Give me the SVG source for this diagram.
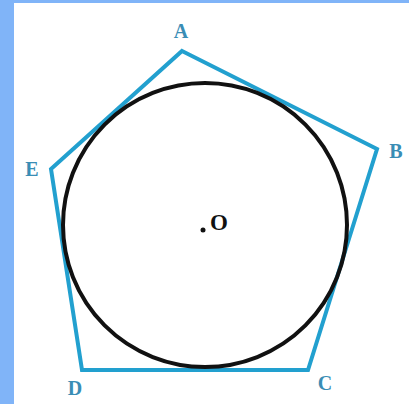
<svg xmlns="http://www.w3.org/2000/svg" width="409" height="404" viewBox="0 0 409 404">
<style>
.lbl{font-family:"Liberation Serif","Times New Roman",serif;font-weight:bold;font-size:20px;fill:#3a8db5;text-anchor:middle}
.edge{fill:none;stroke:#22a0cf;stroke-width:4;stroke-linejoin:miter}
</style>
<rect x="0" y="0" width="409" height="404" fill="#80b4f8"/>
<rect x="14" y="3" width="395" height="401" fill="#ffffff"/>
<g id="connectors">
<polygon class="edge" points="182,51 377,149 308,370 82,370 51,169"/>
</g>
<g id="circle">
<circle cx="205" cy="225" r="142" fill="none" stroke="#111" stroke-width="4"/>
</g>
<g id="A"><text class="lbl" x="181" y="38">A</text></g>
<g id="B"><text class="lbl" x="396" y="158">B</text></g>
<g id="C"><text class="lbl" x="325" y="390">C</text></g>
<g id="D"><text class="lbl" x="75" y="395">D</text></g>
<g id="E"><text class="lbl" x="32" y="176">E</text></g>
<g id="O">
<circle cx="203" cy="230" r="2.5" fill="#111"/>
<text x="210" y="230" font-family="'Liberation Serif','Times New Roman',serif" font-weight="bold" font-size="23" fill="#111">O</text>
</g>
</svg>
